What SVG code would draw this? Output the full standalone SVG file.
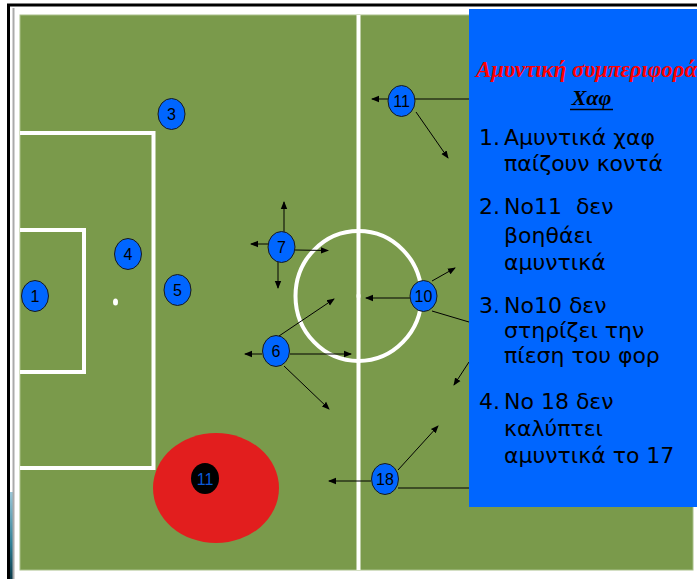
<svg xmlns="http://www.w3.org/2000/svg" width="697" height="579" viewBox="0 0 697 579">
<style>
.pl{fill:#0066FF;stroke:#1a1a1a;stroke-width:1}
.pt{font-family:"Liberation Sans",Arial,sans-serif;font-size:16px;fill:#000;text-anchor:middle}
.mk{fill:none;stroke:#fff;stroke-width:4}
.cn{stroke:#000;stroke-width:1;fill:none}
.ar{marker-end:url(#ah)}
.li{font-family:"DejaVu Sans","Noto Sans",sans-serif;font-size:22px;fill:#000;white-space:pre}
.ti{font-family:"Liberation Serif","Times New Roman",serif;font-weight:bold;font-style:italic}
</style>
<defs>
<marker id="ah" markerUnits="userSpaceOnUse" markerWidth="8" markerHeight="8" viewBox="0 0 8 8" refX="7" refY="4" orient="auto">
<path d="M0,0.8 L8,4 L0,7.2 Z" fill="#000"/>
</marker>
<linearGradient id="strip" x1="0" y1="0" x2="0" y2="1">
<stop offset="0" stop-color="#9cc8d8"/>
<stop offset="0.6" stop-color="#2f7f96"/>
<stop offset="1" stop-color="#0a3a4a"/>
</linearGradient>
</defs>
<rect x="0" y="0" width="697" height="579" fill="#fff"/>
<!-- frame -->
<line x1="7" y1="5" x2="697" y2="5" stroke="#000" stroke-width="3"/>
<line x1="8.5" y1="4" x2="8.5" y2="579" stroke="#000" stroke-width="3"/>
<rect x="10" y="492" width="3" height="87" fill="url(#strip)"/>
<line x1="13.5" y1="8" x2="13.5" y2="579" stroke="#aaa" stroke-width="2"/>
<!-- field -->
<rect x="20" y="15" width="673" height="555" fill="#7A9A4B" stroke="#a9c08a" stroke-width="1"/>
<g id="markings">
<line class="mk" x1="358.5" y1="15" x2="358.5" y2="570" stroke-width="3"/>
<polyline class="mk" points="20,133 153.5,133 153.5,468 20,468"/>
<polyline class="mk" points="20,230 84,230 84,372 20,372"/>
<ellipse cx="358.5" cy="296" rx="63" ry="65" class="mk"/>
<ellipse cx="358.5" cy="296" rx="2" ry="3" fill="#fff"/>
<ellipse cx="115.5" cy="302" rx="2.5" ry="3.5" fill="#fff"/>
</g>
<g id="connectors">
<line class="cn ar" x1="388" y1="99" x2="372" y2="99"/>
<line class="cn" x1="415" y1="99" x2="469" y2="99"/>
<line class="cn ar" x1="416" y1="112" x2="448" y2="158"/>
<line class="cn ar" x1="284" y1="232" x2="284" y2="202" stroke-width="1.6"/>
<line class="cn ar" x1="268" y1="244" x2="251" y2="244"/>
<line class="cn ar" x1="295" y1="250" x2="328" y2="250.5"/>
<line class="cn ar" x1="278" y1="262" x2="278" y2="288"/>
<line class="cn ar" x1="262" y1="354" x2="245" y2="354"/>
<line class="cn ar" x1="290" y1="354" x2="351" y2="354" stroke-width="1.6"/>
<line class="cn ar" x1="279" y1="336" x2="334" y2="299"/>
<line class="cn ar" x1="284" y1="366" x2="329" y2="409"/>
<line class="cn ar" x1="410" y1="298" x2="366" y2="298"/>
<line class="cn ar" x1="432" y1="281" x2="455" y2="268"/>
<line class="cn" x1="432" y1="311" x2="469" y2="322"/>
<line class="cn ar" x1="469" y1="362" x2="454" y2="385"/>
<line class="cn ar" x1="371" y1="481" x2="329" y2="481"/>
<line class="cn ar" x1="398" y1="470" x2="438" y2="426"/>
<line class="cn" x1="398" y1="488" x2="469" y2="488"/>
</g>
<g id="p3"><ellipse class="pl" cx="171.5" cy="114" rx="13.5" ry="15.5"/><text class="pt" x="171.5" y="120">3</text></g>
<g id="p4"><ellipse class="pl" cx="128" cy="254" rx="13.5" ry="15.5"/><text class="pt" x="128" y="260">4</text></g>
<g id="p1"><ellipse class="pl" cx="35" cy="296" rx="13.5" ry="15.5"/><text class="pt" x="35" y="302">1</text></g>
<g id="p5"><ellipse class="pl" cx="177.5" cy="290" rx="13.5" ry="15.5"/><text class="pt" x="177.5" y="296">5</text></g>
<g id="p7"><ellipse class="pl" cx="281.5" cy="247" rx="13.5" ry="15.5"/><text class="pt" x="281.5" y="253">7</text></g>
<g id="p6"><ellipse class="pl" cx="276" cy="351" rx="13.5" ry="15.5"/><text class="pt" x="276" y="357">6</text></g>
<g id="p11top"><ellipse class="pl" cx="401.5" cy="101" rx="13.5" ry="15.5"/><text class="pt" x="401.5" y="107">11</text></g>
<g id="p10"><ellipse class="pl" cx="423.5" cy="296" rx="13.5" ry="15.5"/><text class="pt" x="423.5" y="302">10</text></g>
<g id="p18"><ellipse class="pl" cx="385" cy="479" rx="13.5" ry="15.5"/><text class="pt" x="385" y="485">18</text></g>
<g id="p11opp">
<ellipse cx="216" cy="488" rx="63" ry="55" fill="#E21E1E"/>
<ellipse cx="205" cy="478.5" rx="14" ry="15.5" fill="#000"/>
<text class="pt" x="205" y="485" style="fill:#0a5ad8">11</text>
</g>
<g id="panel">
<rect x="469" y="9" width="228" height="498" fill="#0066FF"/>
<text class="ti" x="476" y="77" font-size="22.8" fill="#FF0000">Αμυντική συμπεριφορά</text>
<text class="ti" x="591.5" y="105" font-size="22" fill="#000" text-anchor="middle">Χαφ</text>
<line x1="570" y1="109.5" x2="613" y2="109.5" stroke="#000" stroke-width="1.5"/>
<text class="li" x="479" y="145">1.</text>
<text class="li" x="504" y="145">Αμυντικά χαφ</text>
<text class="li" x="504" y="171">παίζουν κοντά</text>
<text class="li" x="479" y="214">2.</text>
<text class="li" x="504" y="214">Νο11  δεν</text>
<text class="li" x="504" y="243">βοηθάει</text>
<text class="li" x="504" y="270">αμυντικά</text>
<text class="li" x="479" y="313">3.</text>
<text class="li" x="504" y="313">Νο10 δεν</text>
<text class="li" x="504" y="338">στηρίζει την</text>
<text class="li" x="504" y="363">πίεση του φορ</text>
<text class="li" x="479" y="409">4.</text>
<text class="li" x="504" y="409">Νο 18 δεν</text>
<text class="li" x="504" y="436">καλύπτει</text>
<text class="li" x="504" y="463">αμυντικά το 17</text>
</g>
</svg>
